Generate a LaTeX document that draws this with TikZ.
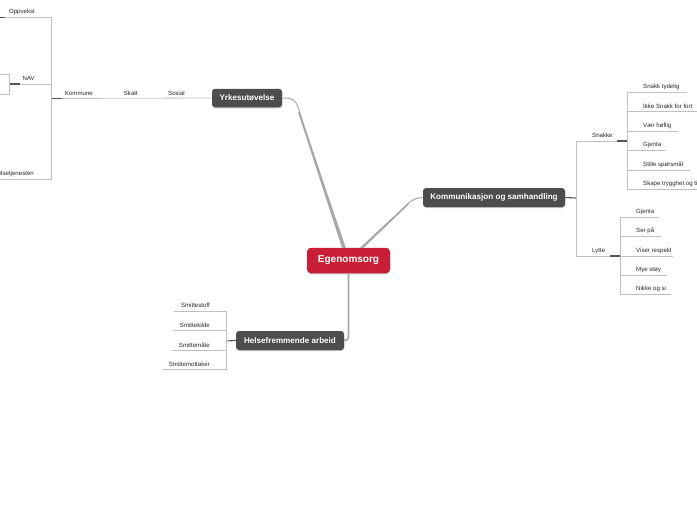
\documentclass[tikz,border=0pt]{standalone}
\usepackage{fontspec}
\setmainfont{Liberation Sans}
\usetikzlibrary{calc,shadows}
\definecolor{topicred}{RGB}{200,30,55}
\definecolor{topicdark}{RGB}{77,77,77}
\definecolor{linegray}{RGB}{192,192,192}
\definecolor{branchgray}{RGB}{168,168,168}
\definecolor{stubdark}{RGB}{85,85,85}
\definecolor{labeltext}{RGB}{40,40,40}
\tikzset{
  softshadow/.style={drop shadow={shadow xshift=0.4pt, shadow yshift=-1pt, opacity=0.22, fill=black}},
  mainbox/.style={fill=topicred, rounded corners=4pt, text=white,
    font=\fontsize{10}{12}\selectfont\bfseries, minimum width=83pt, minimum height=25.5pt,
    inner sep=0pt, softshadow},
  topicbox/.style={fill=topicdark, rounded corners=3pt, text=white,
    font=\fontsize{8.1}{10}\selectfont\bfseries, minimum height=18.5pt, inner sep=0pt, softshadow},
  lbl/.style={text=labeltext, font=\fontsize{6.1}{7}\selectfont, inner sep=0pt},
  lblL/.style={lbl, anchor=west},
  lblR/.style={lbl, anchor=east},
  uline/.style={draw=linegray, line width=0.8pt},
  stub/.style={draw=stubdark, line width=1.1pt},
  branch/.style={draw=branchgray, line width=1pt},
}
\begin{document}
\begin{tikzpicture}[x=1pt,y=-1pt]
\clip (0,0) rectangle (697,520);
\fill[white] (0,0) rectangle (697,520);

% ---------- main topics ----------
\node[mainbox] (ego) at (348.5,260.5) {Egenomsorg};
\node[topicbox, minimum width=70pt] (yrk) at (247,98) {Yrkesutøvelse};
\node[topicbox, minimum width=142pt, minimum height=19pt] (kom) at (494,197.5) {Kommunikasjon og samhandling};
\node[topicbox, minimum width=108pt, minimum height=19pt] (hel) at (290,340.5) {Helsefremmende arbeid};

% ---------- main branches ----------
\coordinate (e1) at ($(ego.north)+(-4.5,0)$);
\coordinate (y1) at (295,98);
\fill[branchgray] ($(e1)+(-1.9,0.5)$) -- ($(e1)+(1.9,0.5)$) -- (299.6,112) -- (298,112) -- cycle;
\draw[branch, rounded corners=8pt] (e1) -- (y1) -- (yrk.east);

\coordinate (e2) at ($(ego.north)+(13,0)$);
\coordinate (k1) at (414,198);
\fill[branchgray] ($(e2)+(-1.7,0.5)$) -- ($(e2)+(1.9,0.5)$) -- (409,204.2) -- (408,203.2) -- cycle;
\draw[branch, rounded corners=7pt] (e2) -- (k1) -- (kom.west);

\coordinate (h1) at (348.5,341);
\draw[branch, line width=1.6pt, rounded corners=4pt] (ego.south) -- (h1) -- (hel.east);

% ---------- Yrkesutøvelse chain ----------
\coordinate (kf) at (51.5,98.5);
\draw[uline] (yrk.west) -- (kf);
\draw[stub] (kf) -- (62,98.5);
\node[lblR] (sosial) at (185,93.2) {Sosial};
\node[lblR] (skatt) at (138,93.2) {Skatt};
\node[lblR] (kommune) at (93,93.2) {Kommune};

\coordinate (kft) at (51.5,17.5);
\coordinate (kfb) at (51.5,179);
\draw[uline] (kft) -- (kfb);
% Oppvekst
\coordinate (opa) at (0,17.5);
\draw[uline] (opa) -- (kft);
\draw[stub] (opa) -- (5,17.5);
\node[lblR] (oppvekst) at (35,12.2) {Oppvekst};
% NAV
\coordinate (nva) at (9.5,84);
\coordinate (nvb) at (51.5,84);
\draw[uline] (nva) -- (nvb);
\draw[stub] (nva) -- (20,84);
\node[lblR] (nav) at (35,78.7) {NAV};
\coordinate (nvt) at (9.5,74);
\coordinate (nvu) at (9.5,94);
\draw[uline] (nvt) -- (nvu);
\draw[uline] (0,74) -- (nvt);
\draw[uline] (0,94) -- (nvu);
% Helsetjenesten
\coordinate (hta) at (0,179);
\draw[uline] (hta) -- (kfb);
\node[lblR] (helsetj) at (34,173.7) {Helsetjenesten};

% ---------- Kommunikasjon og samhandling ----------
\coordinate (kmf) at (576,198);
\draw[stub] (kom.east) -- (kmf);
\coordinate (kmt) at (576,141);
\coordinate (kmb) at (576,256);
\draw[uline] (kmt) -- (kmb);

% Snakke
\coordinate (snf) at (627,141);
\draw[uline] (kmt) -- (617,141);
\draw[stub] (617,141) -- (snf);
\node[lblL] (snakke) at (592,135.7) {Snakke};
\draw[uline] (627,92) -- (627,189.3);
\foreach \n/\y/\xe/\t in {
  s1/92/687/Snakk tydelig,
  s2/111.7/700/Ikke Snakk for fort,
  s3/131/678/Vær høflig,
  s4/150.7/666/Gjenta,
  s5/170/690/Stille spørsmål,
  s6/189.3/700/Skape trygghet og tillit}{
  \coordinate (\n a) at (627,\y);
  \coordinate (\n b) at (\xe,\y);
  \draw[uline] (\n a) -- (\n b);
  \node[lblL] (\n) at (643,\y-5.3) {\t};
}

% Lytte
\coordinate (lyf) at (620,256);
\draw[uline] (kmb) -- (610,256);
\draw[stub] (610,256) -- (lyf);
\node[lblL] (lytte) at (592,250.7) {Lytte};
\draw[uline] (620,217) -- (620,294.5);
\foreach \n/\y/\xe/\t in {
  l1/217/659/Gjenta,
  l2/236/661/Ser på,
  l3/256/673/Viser respekt,
  l4/275/667/Mye støy,
  l5/294.5/671/Nikke og si}{
  \coordinate (\n a) at (620,\y);
  \coordinate (\n b) at (\xe,\y);
  \draw[uline] (\n a) -- (\n b);
  \node[lblL] (\n) at (636,\y-5.3) {\t};
}

% ---------- Helsefremmende arbeid ----------
\coordinate (hf) at (226,341);
\draw[stub] (hel.west) -- (hf);
\draw[uline] (226,311) -- (226,369.5);
\foreach \n/\y/\xs/\t in {
  m1/311/174/Smittestoff,
  m2/330.5/173/Smittekilde,
  m3/350/172/Smittemåte,
  m4/369.5/163/Smittemottaker}{
  \coordinate (\n a) at (\xs,\y);
  \coordinate (\n b) at (226,\y);
  \draw[uline] (\n a) -- (\n b);
  \node[lblR] (\n) at (210,\y-5.3) {\t};
}
\end{tikzpicture}
\end{document}
